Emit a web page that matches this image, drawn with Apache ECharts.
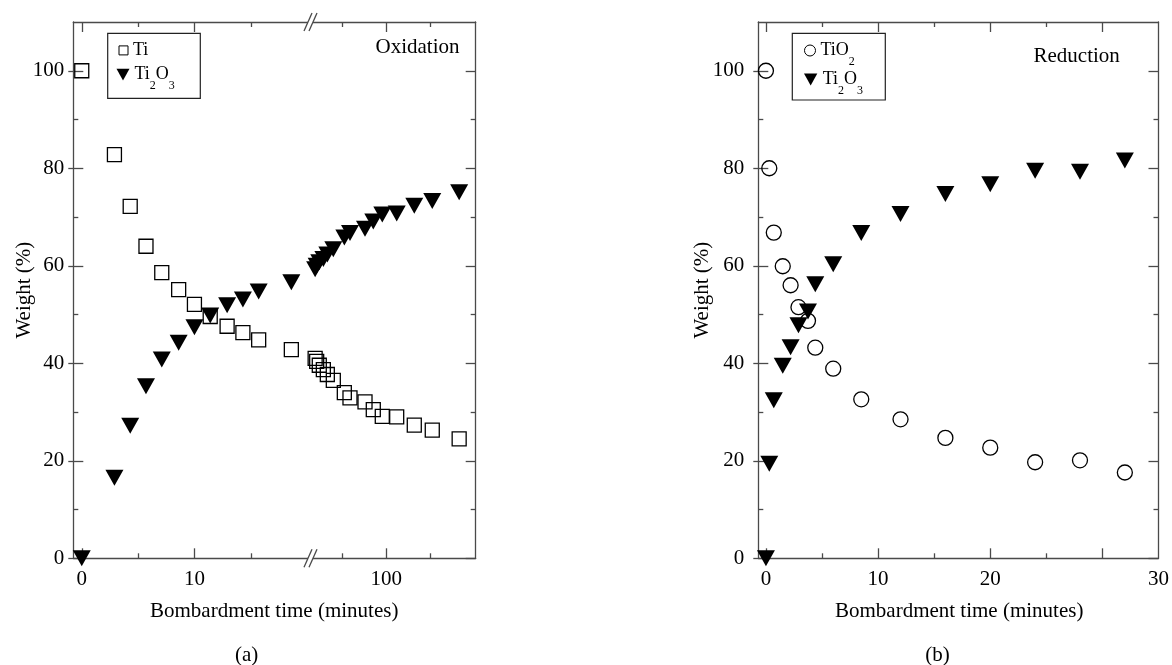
<!DOCTYPE html>
<html><head><meta charset="utf-8">
<script src="https://cdn.jsdelivr.net/npm/echarts@6/dist/echarts.min.js"></script>
<style>html,body{margin:0;padding:0;background:#fff}#c{width:1172px;height:665px}</style>
</head><body><div id="c"></div><script>
// ---------- data: (a) Oxidation ----------
const oxTime   = [0, 2.9, 4.3, 5.7, 7.1, 8.6, 10, 11.4, 12.9, 14.3, 15.7, 18.6,
                  32.9, 33.7, 35.1, 37.4, 39.8, 43.7, 51.9, 56.7, 71.7, 81.6, 93.9, 117.6, 154.8, 205, 312];
const oxTi     = [100, 82.8, 72.2, 64.0, 58.6, 55.1, 52.1, 49.6, 47.6, 46.3, 44.8, 42.8,
                  41.0, 40.4, 39.6, 38.7, 37.7, 36.5, 34.0, 32.9, 32.1, 30.5, 29.1, 29.0, 27.3, 26.3, 24.5];
const oxTi2O3  = [0, 16.5, 27.2, 35.3, 40.8, 44.2, 47.4, 49.8, 51.9, 53.1, 54.7, 56.6,
                  59.3, 60.0, 60.7, 61.4, 62.3, 63.4, 65.8, 66.7, 67.6, 69.1, 70.5, 70.7, 72.3, 73.3, 75.1];
// ---------- data: (b) Reduction ----------
const redTime  = [0, 0.3, 0.7, 1.5, 2.2, 2.9, 3.75, 4.4, 6, 8.5, 12, 16, 20, 24, 28, 32];
const redTiO2  = [100, 80.0, 66.8, 59.9, 56.0, 51.5, 48.7, 43.2, 38.9, 32.6, 28.5, 24.7, 22.7, 19.7, 20.1, 17.6];
const redTi2O3 = [0, 19.4, 32.4, 39.5, 43.3, 47.8, 50.6, 56.2, 60.3, 66.7, 70.6, 74.7, 76.7, 79.5, 79.3, 81.6];
// ---------- tick labels ----------
const yTickLabels = [0, 20, 40, 60, 80, 100];
const yMinorTicks = [10, 30, 50, 70, 90];
const aLinMajor = [0, 10], aLinMinor = [5, 15];
const aLogMajor = [100], aLogMinor = [50, 200];
const bMajor = [0, 10, 20, 30], bMinor = [5, 15, 25];
const bLabels = [0, 10, 20, 35];   // right-end label reads "30" in the reference

const FONT = 'Liberation Serif';
const AX = '#4a4a4a';
const LW = 1.3;
const A_LIN = [-0.75, 20.3], A_LOG = [30.6, 404], B_LIN = [-0.68, 35], YR = [0, 110];
const BREAK_T = 20.3;

function pairs(t, v, f) { return t.map((x, i) => [x, v[i]]).filter(p => f(p[0])); }

function tickAxis(gridIndex, type, range, position, ticks, len, showLine, label, extra, outside) {
  const a = {
    gridIndex, type, min: range[0], max: range[1], position,
    axisLine: {show: showLine, onZero: false, lineStyle: {color: AX, width: LW}},
    axisTick: {show: ticks.length > 0, inside: !outside, length: len, customValues: ticks, lineStyle: {color: AX, width: LW}},
    axisLabel: label ? Object.assign({show: true, fontFamily: FONT, fontSize: 21, color: '#000'}, label) : {show: false},
    splitLine: {show: false}, minorTick: {show: false}, minorSplitLine: {show: false}
  };
  if (type === 'log') a.logBase = 10;
  return Object.assign(a, extra || {});
}
const yName = (gap) => ({name: 'Weight (%)', nameLocation: 'middle', nameGap: gap, nameRotate: 90,
  nameMoveOverlap: false,
  nameTextStyle: {fontFamily: FONT, fontSize: 21, color: '#000'}});

const squareStyle = {symbol: 'rect', symbolSize: 14, itemStyle: {color: 'rgba(0,0,0,0)', borderColor: '#000', borderWidth: 1.3, opacity: 1}};
const circleStyle = {symbol: 'circle', symbolSize: 15, itemStyle: {color: 'rgba(0,0,0,0)', borderColor: '#000', borderWidth: 1.3, opacity: 1}};
const triStyle = {symbol: 'triangle', symbolRotate: 180, symbolSize: [18, 16], itemStyle: {color: '#000', opacity: 1}};
const DOWN_TRI = 'path://M0,0L20,0L10,18Z';

const legendText = {
  'Ti': '{n|Ti}',
  'Ti2O3 (a)': '{n|Ti}{s|2}{n|O}{s|3}',
  'TiO2': '{n|TiO}{s|2}',
  'Ti2O3 (b)': '{n|Ti}{s|2}{n|O}{s|3}'
};
const rich = {
  n: {fontFamily: FONT, fontSize: 18, color: '#000', lineHeight: 32, verticalAlign: 'middle'},
  s: {fontFamily: FONT, fontSize: 12, color: '#000', lineHeight: 10, verticalAlign: 'top', padding: [21, 0, 0, 0]}
};
function leg(name, left, top, w, h, icon, border) {
  const l = {data: [icon ? {name, icon} : name], left, top, orient: 'vertical', itemWidth: w, itemHeight: h, padding: 0,
    selectedMode: false, formatter: n => legendText[n], textStyle: {rich}};
  if (border) l.itemStyle = {borderWidth: 1, borderColor: '#000', color: 'rgba(0,0,0,0)'};
  return l;
}
function breakMark(x, y) {
  return [
    {type: 'rect', z: 100, shape: {x: x - 2.5, y: y - 3, width: 5, height: 6}, style: {fill: '#fff'}},
    {type: 'line', z: 101, shape: {x1: x - 6.5, y1: y + 9, x2: x + 1.5, y2: y - 9}, style: {stroke: AX, lineWidth: 1.3}},
    {type: 'line', z: 101, shape: {x1: x - 1.5, y1: y + 9, x2: x + 6.5, y2: y - 9}, style: {stroke: AX, lineWidth: 1.3}}
  ];
}
function txt(text, x, y, size) {
  return {type: 'text', z: 100, style: {text, x, y, fontFamily: FONT, fontSize: size || 21, fill: '#000', align: 'center', verticalAlign: 'middle'}};
}

const chart = echarts.init(document.getElementById('c'), null, {renderer: 'canvas'});
const gridTop = 22, gridH = 536.3;
chart.setOption({
  backgroundColor: '#fff',
  animation: false,
  grid: [
    {left: 73.3, top: gridTop, width: 237.2, height: gridH},
    {left: 310.5, top: gridTop, width: 165.2, height: gridH},
    {left: 758.3, top: gridTop, width: 402.4, height: gridH}
  ],
  xAxis: [
    tickAxis(0, 'value', A_LIN, 'bottom', aLinMajor, 10, true, {customValues: aLinMajor, margin: 11}),
    tickAxis(0, 'value', A_LIN, 'bottom', aLinMinor, 5, false),
    tickAxis(0, 'value', A_LIN, 'top', aLinMajor, 10, true),
    tickAxis(0, 'value', A_LIN, 'top', aLinMinor, 5, false),
    tickAxis(1, 'log', A_LOG, 'bottom', aLogMajor, 10, true, {customValues: aLogMajor, margin: 11}),
    tickAxis(1, 'log', A_LOG, 'bottom', aLogMinor, 5, false),
    tickAxis(1, 'log', A_LOG, 'top', aLogMajor, 10, true),
    tickAxis(1, 'log', A_LOG, 'top', aLogMinor, 5, false),
    tickAxis(2, 'value', B_LIN, 'bottom', bMajor, 10, true, {customValues: bLabels, margin: 11,
      formatter: v => (v === 35 ? '30' : String(v))}),
    tickAxis(2, 'value', B_LIN, 'bottom', bMinor, 5, false),
    tickAxis(2, 'value', B_LIN, 'top', bMajor, 10, true),
    tickAxis(2, 'value', B_LIN, 'top', bMinor, 5, false)
  ],
  yAxis: [
    tickAxis(0, 'value', YR, 'left', yTickLabels, 10, true, {customValues: yTickLabels, margin: 9}, yName(38)),
    tickAxis(0, 'value', YR, 'left', yMinorTicks, 5, false),
    tickAxis(1, 'value', YR, 'right', yTickLabels, 10, true),
    tickAxis(1, 'value', YR, 'right', yMinorTicks, 5, false),
    tickAxis(2, 'value', YR, 'left', yTickLabels, 10, true, {customValues: yTickLabels, margin: 14}, yName(45)),
    tickAxis(2, 'value', YR, 'left', yMinorTicks, 5, false),
    tickAxis(2, 'value', YR, 'right', yTickLabels, 10, true),
    tickAxis(2, 'value', YR, 'right', yMinorTicks, 5, false),
    tickAxis(0, 'value', YR, 'left', yTickLabels, 5, false, null, null, true),
    tickAxis(2, 'value', YR, 'left', yTickLabels, 5, false, null, null, true)
  ],
  legend: [
    leg('Ti', 118.5, 41.4, 9, 9, null, true),
    leg('Ti2O3 (a)', 116.5, 58.6, 13, 12, DOWN_TRI),
    leg('TiO2', 804, 34.5, 11, 11, null, true),
    leg('Ti2O3 (b)', 804, 63.5, 14, 12, DOWN_TRI)
  ],
  series: [
    Object.assign({name: 'Ti', type: 'scatter', xAxisIndex: 0, yAxisIndex: 0, clip: false,
      data: pairs(oxTime, oxTi, t => t <= BREAK_T)}, squareStyle),
    Object.assign({name: 'Ti', type: 'scatter', xAxisIndex: 4, yAxisIndex: 2, clip: false,
      data: pairs(oxTime, oxTi, t => t > BREAK_T)}, squareStyle),
    Object.assign({name: 'Ti2O3 (a)', type: 'scatter', xAxisIndex: 0, yAxisIndex: 0, clip: false,
      data: pairs(oxTime, oxTi2O3, t => t <= BREAK_T)}, triStyle),
    Object.assign({name: 'Ti2O3 (a)', type: 'scatter', xAxisIndex: 4, yAxisIndex: 2, clip: false,
      data: pairs(oxTime, oxTi2O3, t => t > BREAK_T)}, triStyle),
    Object.assign({name: 'TiO2', type: 'scatter', xAxisIndex: 8, yAxisIndex: 4, clip: false,
      data: pairs(redTime, redTiO2, () => true)}, circleStyle),
    Object.assign({name: 'Ti2O3 (b)', type: 'scatter', xAxisIndex: 8, yAxisIndex: 4, clip: false,
      data: pairs(redTime, redTi2O3, () => true)}, triStyle)
  ],
  graphic: [
    {type: 'rect', z: 99, shape: {x: 107.7, y: 33.3, width: 92.6, height: 65}, style: {fill: 'none', stroke: '#222', lineWidth: 1.2}},
    {type: 'rect', z: 99, shape: {x: 792.3, y: 33.3, width: 93, height: 66.7}, style: {fill: 'none', stroke: '#222', lineWidth: 1.2}},
    ...breakMark(310.5, 22),
    ...breakMark(310.5, 558.3),
    txt('Oxidation', 417.5, 47),
    txt('Reduction', 1076.7, 56),
    txt('Bombardment time (minutes)', 274.2, 611),
    txt('Bombardment time (minutes)', 959.2, 611),
    txt('(a)', 246.7, 655),
    txt('(b)', 937.5, 655)
  ]
});
</script></body></html>
